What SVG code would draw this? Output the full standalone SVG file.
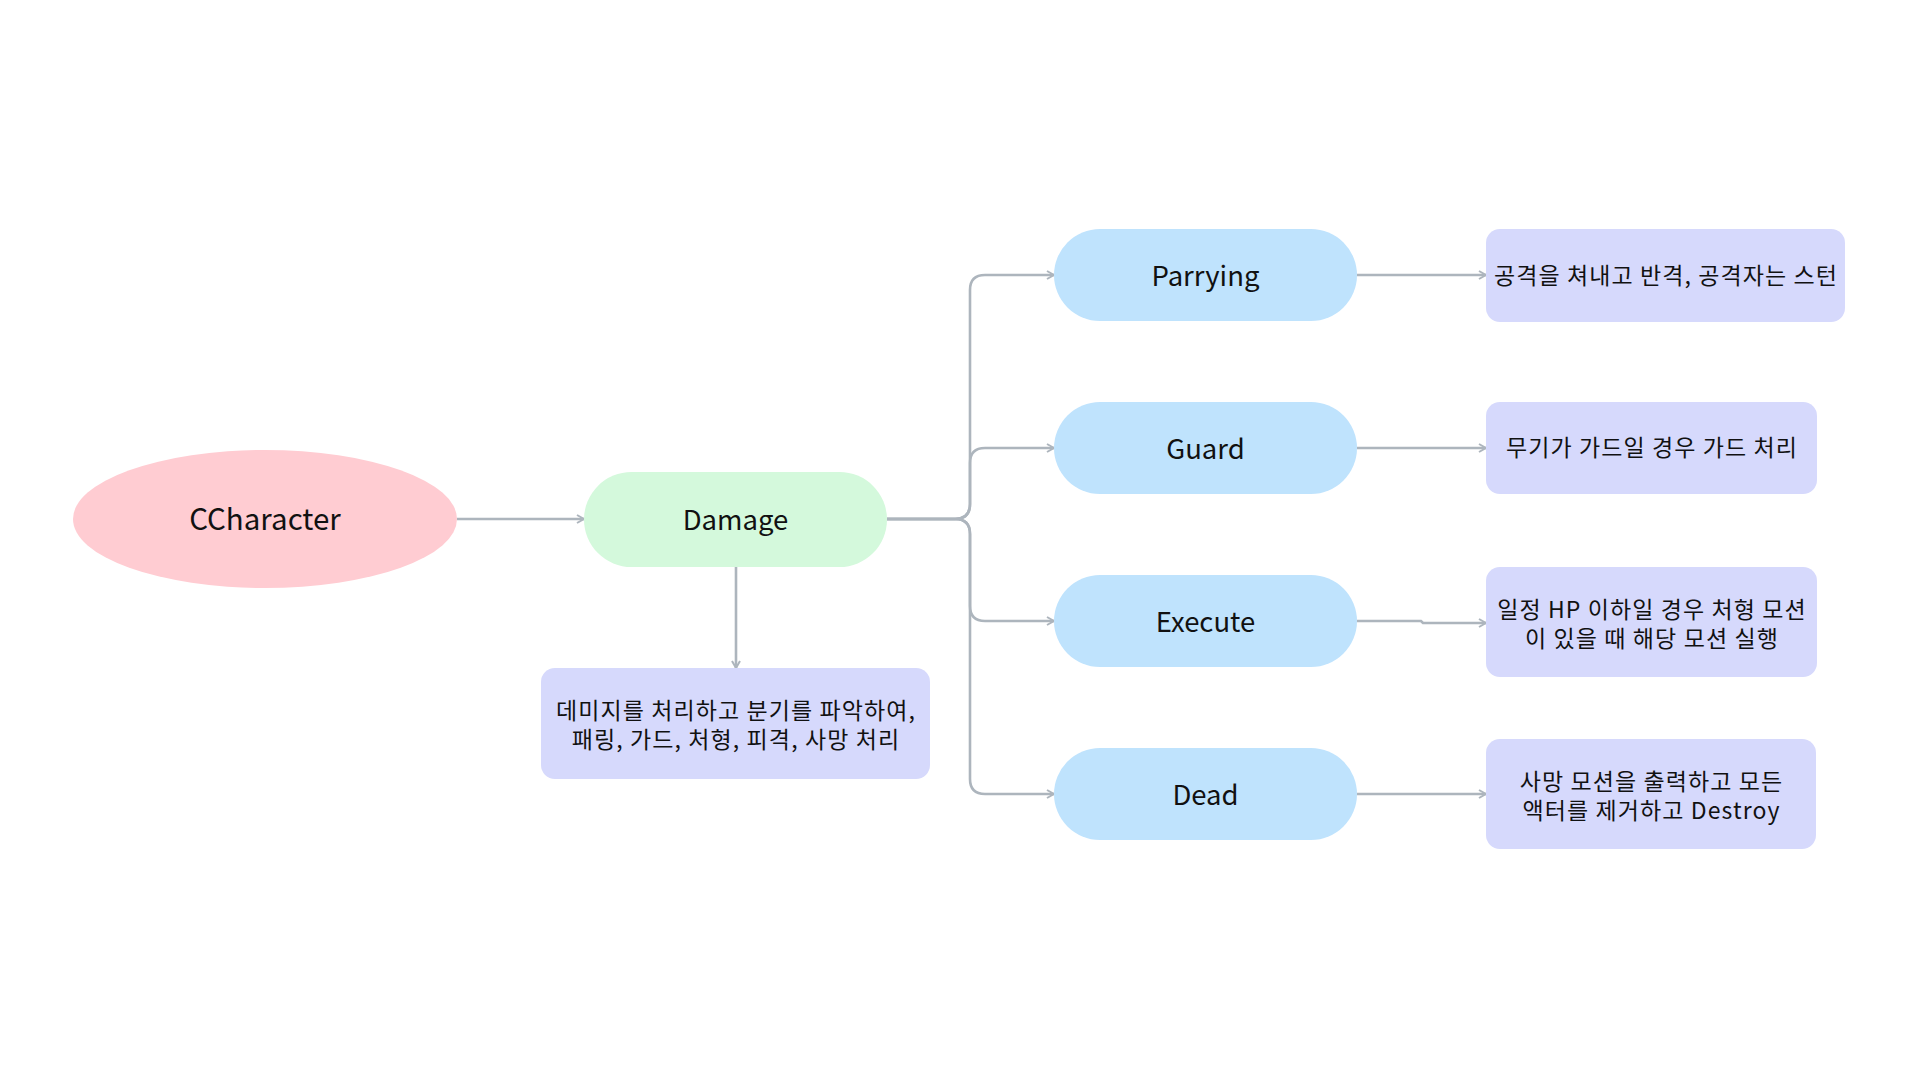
<svg xmlns="http://www.w3.org/2000/svg" width="1920" height="1080" viewBox="0 0 1920 1080">
  <style>
    .t { font-family: "Noto Sans CJK KR", "Noto Sans", sans-serif; fill: #111111; text-anchor: middle; }
    .big { font-size: 27.5px; }
    .cc { font-size: 29.5px; }
    .small { font-size: 23px; letter-spacing: 1.1px; }
    .conn { fill: none; stroke: #adb5bd; stroke-width: 2.6; marker-end: url(#arr); }
    .pink { fill: #ffccd2; }
    .green { fill: #d4f9dc; }
    .blue { fill: #bfe3fd; }
    .lav { fill: #d6d9fc; }
  </style>
  <defs>
    <marker id="arr" viewBox="0 0 10 10" refX="9" refY="5" markerWidth="10" markerHeight="10" markerUnits="userSpaceOnUse" orient="auto">
      <path d="M2,1 L9,5 L2,9" fill="none" stroke="#adb5bd" stroke-width="2"/>
    </marker>
  </defs>
  <rect width="1920" height="1080" fill="#ffffff"/>

  <g id="connectors">
    <path class="conn" d="M457,519 H584"/>
    <path class="conn" d="M736,567 V668"/>
    <path class="conn" d="M887,519 H955 Q970,519 970,504 V290 Q970,275 985,275 H1054"/>
    <path class="conn" d="M887,519 H955 Q970,519 970,504 V463 Q970,448 985,448 H1054"/>
    <path class="conn" d="M887,519 H955 Q970,519 970,534 V606 Q970,621 985,621 H1054"/>
    <path class="conn" d="M887,519 H955 Q970,519 970,534 V779 Q970,794 985,794 H1054"/>
    <path class="conn" d="M1357,275 H1486"/>
    <path class="conn" d="M1357,448 H1486"/>
    <path class="conn" d="M1357,621 H1421 L1423,623 H1486"/>
    <path class="conn" d="M1357,794 H1486"/>
  </g>

  <g id="ccharacter">
    <ellipse class="pink" cx="265" cy="519" rx="192" ry="69"/>
    <text class="t cc" x="265" y="530">CCharacter</text>
  </g>

  <g id="damage">
    <rect class="green" x="584" y="472" width="303" height="95" rx="47.5"/>
    <text class="t big" x="735.5" y="529.5">Damage</text>
  </g>

  <g id="damage-desc">
    <rect class="lav" x="541" y="668" width="389" height="111" rx="14"/>
    <text class="t small"><tspan x="736" y="718.5">데미지를 처리하고 분기를 파악하여,</tspan><tspan x="736" y="747.5">패링, 가드, 처형, 피격, 사망 처리</tspan></text>
  </g>

  <g id="parrying">
    <rect class="blue" x="1054" y="229" width="303" height="92" rx="46"/>
    <text class="t big" x="1205.5" y="285.5">Parrying</text>
  </g>
  <g id="guard">
    <rect class="blue" x="1054" y="402" width="303" height="92" rx="46"/>
    <text class="t big" x="1205.5" y="458.5">Guard</text>
  </g>
  <g id="execute">
    <rect class="blue" x="1054" y="575" width="303" height="92" rx="46"/>
    <text class="t big" x="1205.5" y="631.5">Execute</text>
  </g>
  <g id="dead">
    <rect class="blue" x="1054" y="748" width="303" height="92" rx="46"/>
    <text class="t big" x="1205.5" y="804.5">Dead</text>
  </g>

  <g id="parrying-desc">
    <rect class="lav" x="1486" y="229" width="359" height="93" rx="14"/>
    <text class="t small" x="1666" y="283.5">공격을 쳐내고 반격, 공격자는 스턴</text>
  </g>
  <g id="guard-desc">
    <rect class="lav" x="1486" y="402" width="331" height="92" rx="14"/>
    <text class="t small" x="1652" y="456">무기가 가드일 경우 가드 처리</text>
  </g>
  <g id="execute-desc">
    <rect class="lav" x="1486" y="567" width="331" height="110" rx="14"/>
    <text class="t small"><tspan x="1652" y="617.5">일정 HP 이하일 경우 처형 모션</tspan><tspan x="1652" y="646.5">이 있을 때 해당 모션 실행</tspan></text>
  </g>
  <g id="dead-desc">
    <rect class="lav" x="1486" y="739" width="330" height="110" rx="14"/>
    <text class="t small"><tspan x="1651.5" y="789.5">사망 모션을 출력하고 모든</tspan><tspan x="1651.5" y="818.5">액터를 제거하고 Destroy</tspan></text>
  </g>
</svg>
